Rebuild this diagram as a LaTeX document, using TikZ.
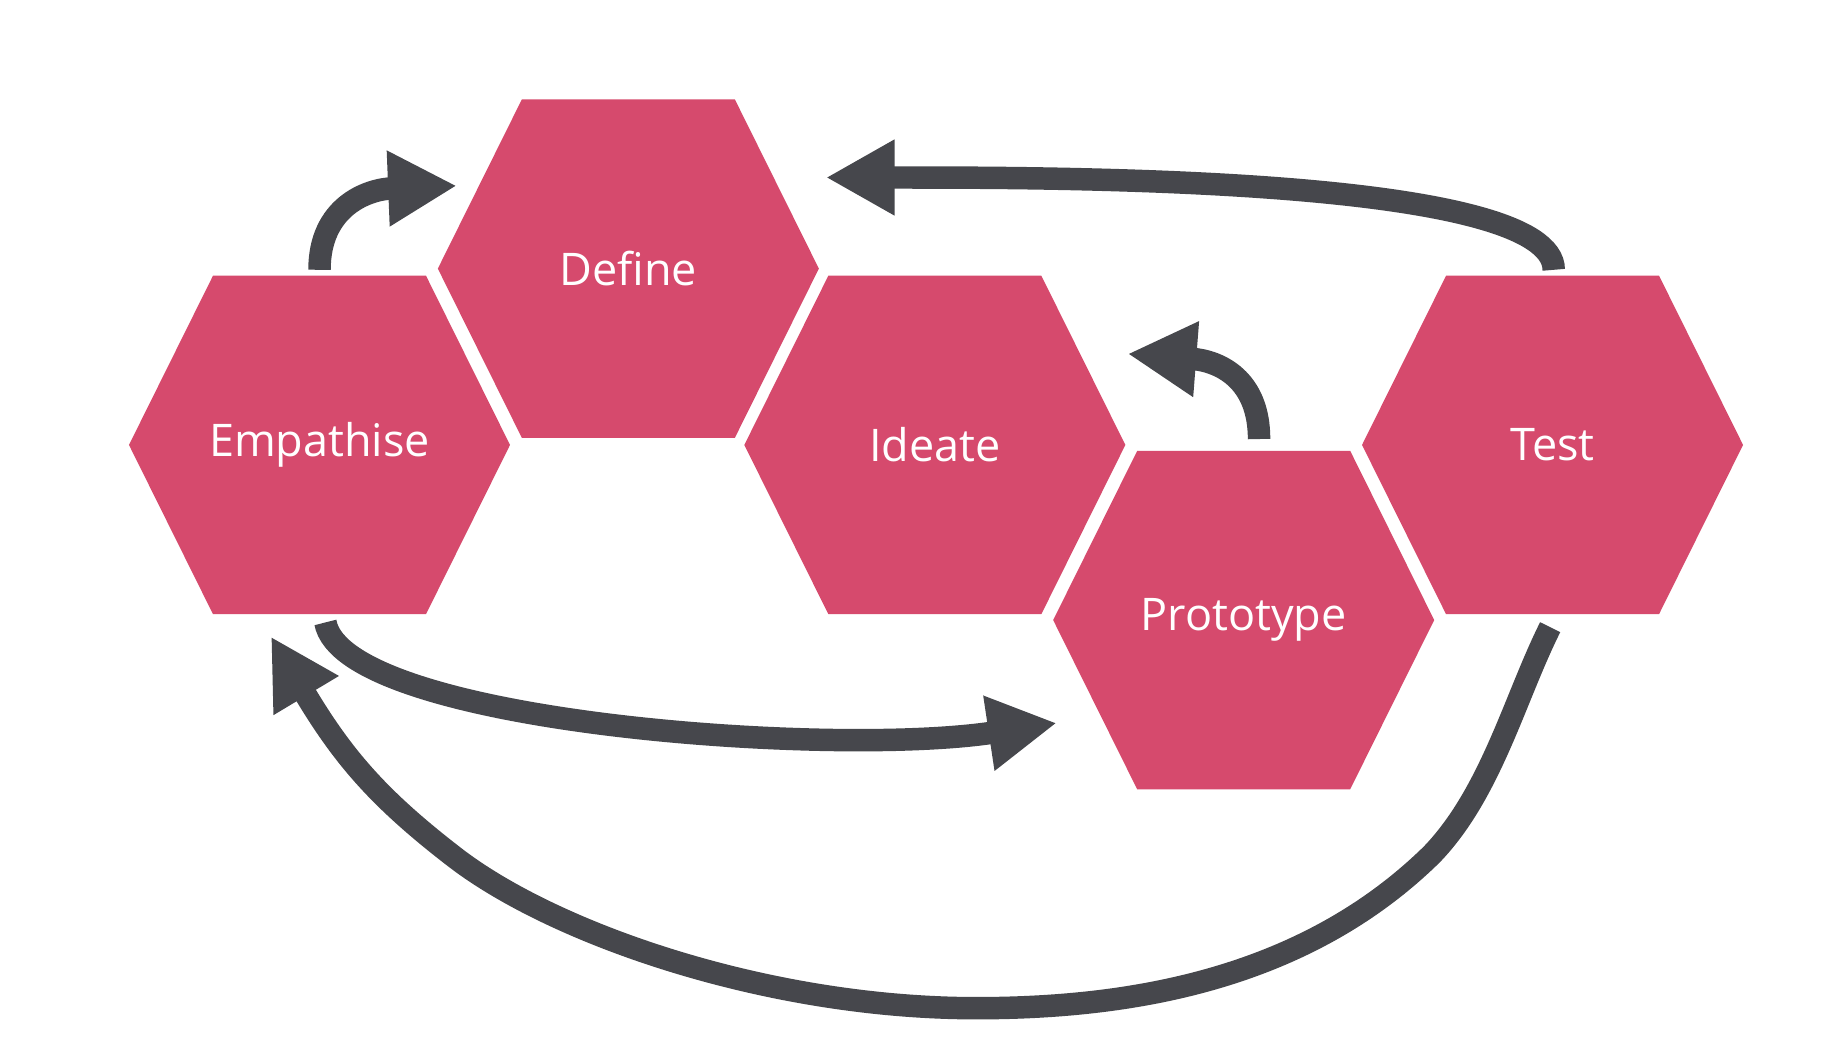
\documentclass[tikz,border=0pt]{standalone}
\usepackage{fontspec}
\setmainfont{Open Sans}
\usetikzlibrary{arrows.meta}
\definecolor{hexc}{HTML}{D64A6D}
\definecolor{arr}{HTML}{46474C}
\begin{document}
\begin{tikzpicture}[x=1pt,y=-1pt,
  hexa/.style={fill=hexc},
  lbl/.style={text=white,font=\fontsize{38}{40}\selectfont},
  flow/.style={draw=arr,line width=19pt,-{Triangle[length=58pt,width=60pt]}}]
\useasboundingbox[fill=white] (0,0) rectangle (1560,880.5);
\newcommand\hexat[3]{%
  \fill[hexa] (#1-90,#2-143) -- (#1+90,#2-143) -- (#1+161,#2) -- (#1+90,#2+143) -- (#1-90,#2+143) -- (#1-161,#2) -- cycle;
  \node[lbl] (#3) at (#1,#2) {};}
\hexat{270}{376}{e}
\hexat{531}{227}{d}
\hexat{790}{376}{i}
\hexat{1051}{524}{p}
\hexat{1312}{376}{t}
\node[lbl] (el) at (270,376) {Empathise};
\node[lbl] (dl) at (531,227) {Define};
\node[lbl] (il) at (790,376) {Ideate};
\node[lbl] (pl) at (1051,524) {Prototype};
\node[lbl] (tl) at (1312,376) {Test};
\coordinate (a1s) at (270,228); \coordinate (a1e) at (386,157);
\coordinate (a2s) at (1313,228); \coordinate (a2e) at (698,150);
\coordinate (a3s) at (1064,371); \coordinate (a3e) at (953,299);
\coordinate (a4s) at (275,526); \coordinate (a4e) at (893,611);
\coordinate (a5s) at (1310,530); \coordinate (a5e) at (229,538);
\draw[flow] (a1s) .. controls (270,175) and (310,160) .. (a1e);
\draw[flow] (a2s) .. controls (1313,150) and (900,150) .. (a2e);
\draw[flow] (a3s) .. controls (1064,320) and (1030,305) .. (a3e);
\draw[flow] (a4s) .. controls (290,610) and (700,640) .. (a4e);
\draw[flow] (a5s) .. controls (1280,590) and (1260,670) .. (1210,722)
  .. controls (1100,830) and (950,852) .. (825,852)
  .. controls (650,852) and (470,790) .. (385,725)
  .. controls (320,675) and (290,640) .. (a5e);
\end{tikzpicture}
\end{document}
